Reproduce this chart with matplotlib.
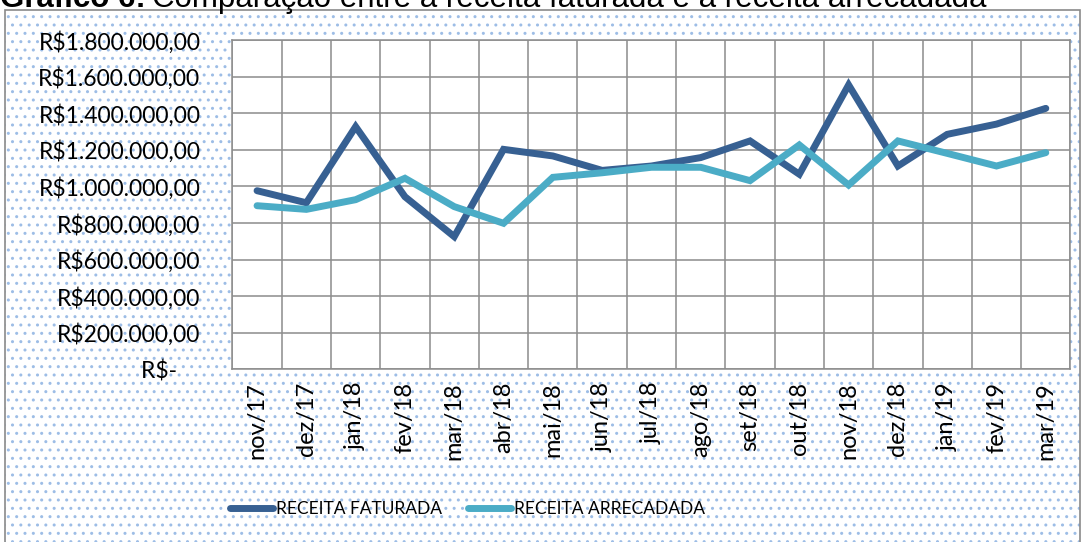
import numpy as np
import matplotlib.pyplot as plt
from matplotlib.patches import Rectangle
from matplotlib.ticker import FuncFormatter

# dados
meses = ['nov/17', 'dez/17', 'jan/18', 'fev/18', 'mar/18', 'abr/18', 'mai/18',
         'jun/18', 'jul/18', 'ago/18', 'set/18', 'out/18', 'nov/18', 'dez/18',
         'jan/19', 'fev/19', 'mar/19']
faturada = [977000, 911000, 1327000, 944000, 726000, 1203000, 1167000,
            1088000, 1112000, 1158000, 1249000, 1067000, 1555000, 1112000,
            1285000, 1341000, 1427000]
arrecadada = [895000, 875000, 928000, 1045000, 890000, 799000, 1050000,
              1075000, 1105000, 1105000, 1032000, 1227000, 1008000, 1249000,
              1181000, 1112000, 1185000]

plt.rcParams['font.family'] = ['Lato', 'DejaVu Sans']
plt.rcParams['hatch.linewidth'] = 1.0

fig = plt.figure(figsize=(10.84, 5.42), dpi=100)

# fundo pontilhado
fundo = Rectangle((5 / 1084, 0), 1075 / 1084, 1 - 10 / 542, transform=fig.transFigure,
                  facecolor='white', edgecolor='#9dbde6', hatch='..', linewidth=0, zorder=-2)
fig.patches.append(fundo)
borda = Rectangle((5 / 1084, -0.01), 1075 / 1084, 1 - 10 / 542 + 0.01, transform=fig.transFigure,
                  facecolor='none', edgecolor='#8a8a8a', linewidth=1.2, zorder=-1)
fig.patches.append(borda)

# titulo (cortado no topo)
t1 = fig.text(0.0, 0.987, 'Gráfico 6:', fontsize=22.5, fontweight='bold',
              family='Liberation Sans', ha='left', va='baseline')
r = fig.canvas.get_renderer()
fim = t1.get_window_extent(r).x1 / fig.bbox.width
fig.text(fim + 0.006, 0.987, 'Comparação entre a receita faturada e a receita arrecadada',
         fontsize=22.5, family='Liberation Sans', ha='left', va='baseline')

ax = fig.add_axes([0.2144, 0.3183, 0.7731, 0.6077])
ax.set_facecolor('white')
x = np.arange(len(meses))
ax.plot(x, faturada, color='#376092', linewidth=5, solid_capstyle='round',
        solid_joinstyle='miter', label='RECEITA FATURADA', zorder=3)
ax.plot(x, arrecadada, color='#4bacc6', linewidth=5, solid_capstyle='round',
        solid_joinstyle='miter', label='RECEITA ARRECADADA', zorder=3)

ax.set_xlim(-0.5, len(meses) - 0.5)
ax.set_ylim(0, 1800000)
ax.set_yticks(np.arange(0, 1800001, 200000))


def moeda(v, pos):
    if v == 0:
        return 'R$-    '
    s = f'{v:,.2f}'.replace(',', 'X').replace('.', ',').replace('X', '.')
    return 'R$' + s


ax.yaxis.set_major_formatter(FuncFormatter(moeda))
ax.set_xticks(x)
ax.set_xticklabels(meses, rotation=90)
ax.set_xticks(np.arange(-0.5, len(meses), 1), minor=True)
ax.tick_params(axis='x', which='both', length=0, labelsize=17, pad=9)
ax.tick_params(axis='y', length=0, labelsize=16.5, pad=23)
ax.grid(True, axis='y', color='#8c8c8c', linewidth=1.1)
ax.grid(True, axis='x', which='minor', color='#8c8c8c', linewidth=1.1)
ax.set_axisbelow(True)
for s in ax.spines.values():
    s.set_color('#8c8c8c')
    s.set_linewidth(1.1)

leg = fig.legend(loc='center', bbox_to_anchor=(0.431, 0.061), ncol=2, frameon=False,
                 fontsize=12.5, handlelength=2.5, handletextpad=0.15, columnspacing=1.5)
for h in leg.get_lines():
    h.set_solid_capstyle('round')

fig.savefig('out.png', dpi=100)
